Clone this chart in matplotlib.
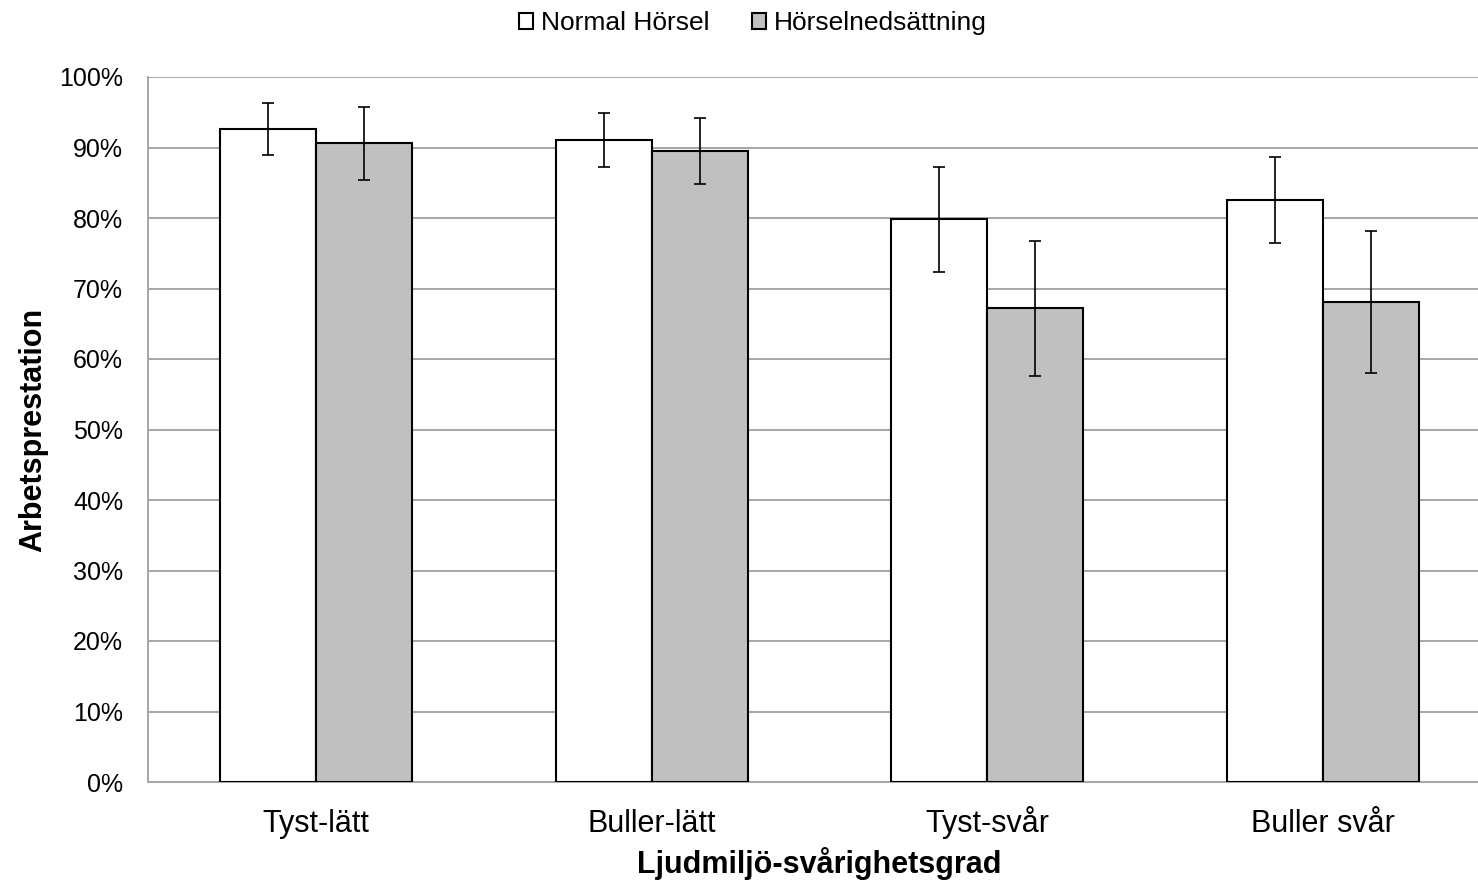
import numpy as np
import matplotlib
matplotlib.use("Agg")
import matplotlib.pyplot as plt
from matplotlib.ticker import PercentFormatter

plt.rcParams['font.family'] = ['Liberation Sans', 'DejaVu Sans']

categories = ["Tyst-lätt", "Buller-lätt", "Tyst-svår", "Buller svår"]
series_names = ["Normal Hörsel", "Hörselnedsättning"]
normal = [92.6, 91.1, 79.8, 82.5]
normal_err = [3.7, 3.85, 7.5, 6.1]
impaired = [90.6, 89.5, 67.2, 68.1]
impaired_err = [5.2, 4.65, 9.6, 10.1]

W, H = 1478, 881
fig = plt.figure(figsize=(W / 100, H / 100), dpi=100)
# axes run a little past the right edge, like the cropped original
ax = fig.add_axes([148 / W, 1 - 782 / H, 1343 / W, (782 - 77) / H])

x = np.arange(len(categories))
w = 0.286
ekw = dict(elinewidth=1.2, capthick=1.2, ecolor="black")
ax.bar(x - w / 2, normal, w, yerr=normal_err, color="white", edgecolor="black",
       linewidth=1.5, capsize=4, error_kw=ekw, label=series_names[0], zorder=3)
ax.bar(x + w / 2, impaired, w, yerr=impaired_err, color="#c0c0c0", edgecolor="black",
       linewidth=1.5, capsize=4, error_kw=ekw, label=series_names[1], zorder=3)

ax.set_xlim(-0.5, len(categories) - 0.5)
ax.set_ylim(0, 100)
ax.set_yticks(np.arange(0, 101, 10))
ax.yaxis.set_major_formatter(PercentFormatter(decimals=0))
ax.set_xticks(x)
ax.set_xticklabels(categories)
ax.tick_params(axis="y", length=0, pad=18, labelsize=18)
ax.tick_params(axis="x", length=0, pad=36, labelsize=22)
for lbl in ax.get_xticklabels():
    lbl.set_verticalalignment("baseline")
ax.grid(axis="y", color="#a6a6a6", linewidth=1.4, zorder=0)
for s in ["top", "right"]:
    ax.spines[s].set_visible(False)
for s in ["left", "bottom"]:
    ax.spines[s].set_color("#a6a6a6")
    ax.spines[s].set_linewidth(1.4)

ax.set_xlabel("Ljudmiljö-svårighetsgrad", fontsize=22, fontweight="bold", labelpad=6)
ax.set_ylabel("Arbetsprestation", fontsize=22, fontweight="bold", labelpad=8)

fig.legend(*ax.get_legend_handles_labels(), loc="center",
           bbox_to_anchor=(753 / W, 1 - 23 / H), ncol=2,
           frameon=False, fontsize=19, handlelength=0.55, handleheight=0.55,
           handletextpad=0.3, columnspacing=1.6)

fig.savefig("out.png", dpi=100)
